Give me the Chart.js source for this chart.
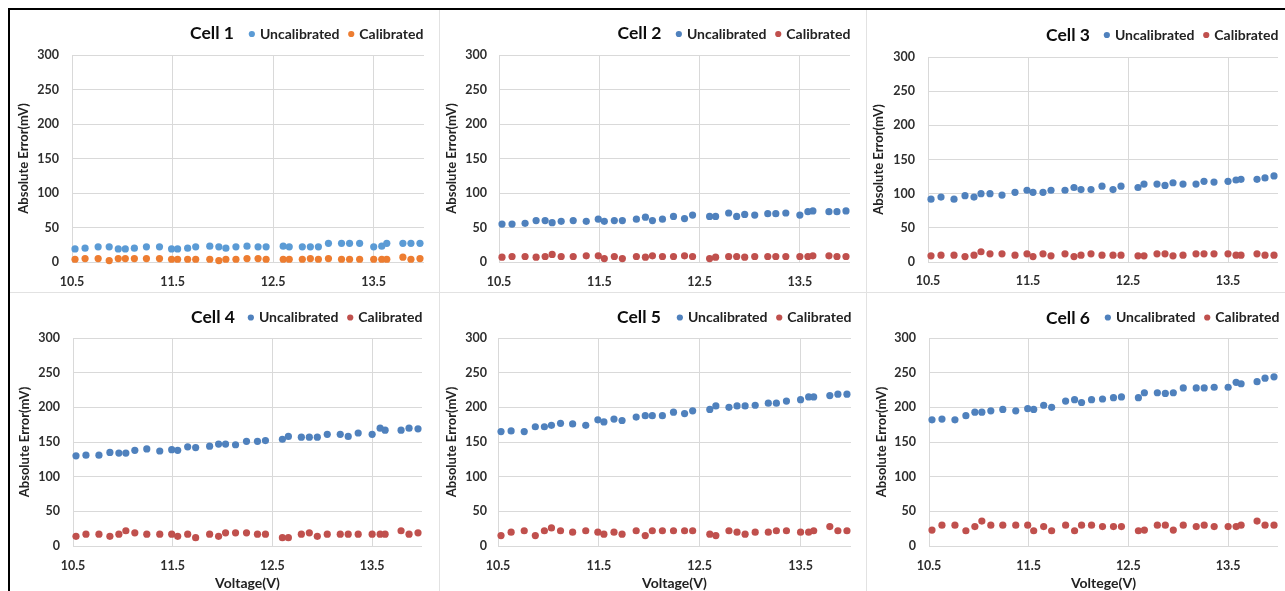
<!DOCTYPE html>
<html><head><meta charset="utf-8">
<script src="https://cdn.jsdelivr.net/npm/chart.js@4.4.1/dist/chart.umd.min.js"></script>
<style>
html,body{margin:0;padding:0;background:#fff;width:1285px;height:591px;overflow:hidden;position:relative}
canvas{position:absolute}
.line{position:absolute;background:#000}
.sep{position:absolute;background:#e2e2e2}
</style></head><body>
<div class="sep" style="left:439px;top:10px;width:1px;height:581px"></div>
<div class="sep" style="left:866px;top:10px;width:1px;height:581px"></div>
<div class="sep" style="left:10px;top:292px;width:1275px;height:1px"></div>
<div class="line" style="left:8px;top:8px;width:1277px;height:2px"></div>
<div class="line" style="left:8px;top:8px;width:2px;height:583px"></div>
<script>
// ---- data ----
const voltage = [10.53,10.63,10.76,10.87,10.96,11.03,11.12,11.24,11.37,11.49,11.55,11.65,11.73,11.87,11.96,12.03,12.13,12.24,12.35,12.43,12.60,12.66,12.79,12.87,12.95,13.05,13.18,13.26,13.36,13.50,13.58,13.63,13.79,13.87,13.96];
const cell1Uncal = [19,20,22,22,19,19,20,22,22,19,19,20,22,23,22,20,22,23,22,22,23,22,22,22,22,27,27,27,27,22,23,27,27,27,27];
const cell1Cal   = [4,5,5,2,5,5,5,5,5,4,4,4,4,4,2,4,4,5,5,4,4,4,4,5,4,5,4,4,4,4,4,4,7,4,5];
const cell2Uncal = [55,55,56,60,60,57,59,60,59,62,59,60,60,62,65,60,62,66,63,68,66,66,71,66,69,68,70,70,71,68,73,74,73,73,74];
const cell2Cal   = [7,8,8,7,8,11,8,8,9,9,5,8,5,8,7,9,8,8,9,8,5,7,8,8,7,8,8,8,8,8,8,9,9,8,8];
const cell3Uncal = [92,95,92,97,95,100,100,98,102,105,102,102,105,105,109,106,106,111,106,111,109,114,114,112,116,114,114,118,117,118,120,121,121,123,126];
const cell3Cal   = [9,10,10,8,10,15,12,12,10,12,8,12,9,12,8,10,12,10,10,10,9,9,12,12,9,10,12,12,12,12,10,10,12,10,10];
const cell4Uncal = [130,131,131,135,134,134,138,140,137,139,138,143,142,144,147,147,146,151,151,152,154,158,157,157,157,161,161,158,163,161,170,167,167,170,169];
const cell4Cal   = [14,17,17,14,17,22,19,17,17,17,14,17,12,17,14,19,19,19,17,17,12,12,17,19,14,17,17,17,17,17,17,17,22,17,19];
const cell5Uncal = [165,166,165,172,172,174,177,176,174,182,179,183,181,186,188,188,188,193,191,195,197,202,200,202,202,203,206,206,209,211,215,215,217,219,219];
const cell5Cal   = [15,20,22,15,22,26,22,20,22,20,17,20,17,22,15,22,22,22,22,22,17,15,22,20,17,20,20,22,22,20,20,22,28,22,22];
const cell6Uncal = [182,183,182,188,193,193,195,197,195,198,197,203,200,209,211,207,211,212,214,215,214,221,221,220,221,228,228,228,229,229,236,234,237,242,244];
const cell6Cal   = [23,30,30,22,28,36,30,30,30,30,22,28,22,30,22,30,30,28,28,28,22,23,30,30,23,30,28,30,28,28,28,30,36,30,30];
const xTicks = [10.5, 11.5, 12.5, 13.5];
const yTicks = [0, 50, 100, 150, 200, 250, 300];
const seriesNames = ['Uncalibrated', 'Calibrated'];
const cellTitles = ['Cell 1','Cell 2','Cell 3','Cell 4','Cell 5','Cell 6'];
const yAxisTitle = 'Absolute Error(mV)';
const xAxisTitles = [null, null, null, 'Voltage(V)', 'Voltage(V)', 'Voltege(V)'];

// ---- layout / styles ----
const FONT = 'Lato';
const panels = [
  {unc:cell1Uncal, cal:cell1Cal, cu:'#5B9BD5', cc:'#ED7D31',
   g:{top:0,bottom:293,plotL:72,plotR:424,plotT:55,plotB:262,titleCx:212,titleCy:33,legCy:34,legEnd:423,yTitleCx:24,tickR:59,xTickCy:282,xTitleCy:0}},
  {unc:cell2Uncal, cal:cell2Cal, cu:'#4F81BD', cc:'#C0504D',
   g:{top:0,bottom:293,plotL:499,plotR:850,plotT:55,plotB:262,titleCx:639.5,titleCy:33.5,legCy:34,legEnd:850,yTitleCx:452,tickR:487,xTickCy:282,xTitleCy:0}},
  {unc:cell3Uncal, cal:cell3Cal, cu:'#4F81BD', cc:'#C0504D',
   g:{top:0,bottom:293,plotL:928,plotR:1278,plotT:57,plotB:262,titleCx:1068,titleCy:35,legCy:35,legEnd:1278,yTitleCx:879,tickR:915,xTickCy:281,xTitleCy:0}},
  {unc:cell4Uncal, cal:cell4Cal, cu:'#4F81BD', cc:'#C0504D',
   g:{top:293,bottom:591,plotL:73,plotR:422,plotT:338,plotB:546,titleCx:213,titleCy:317,legCy:317.5,legEnd:422.5,yTitleCx:25,tickR:60,xTickCy:566,xTitleCy:583}},
  {unc:cell5Uncal, cal:cell5Cal, cu:'#4F81BD', cc:'#C0504D',
   g:{top:293,bottom:591,plotL:498,plotR:851,plotT:338,plotB:546,titleCx:639,titleCy:317,legCy:317.5,legEnd:851,yTitleCx:452,tickR:487,xTickCy:566,xTitleCy:583}},
  {unc:cell6Uncal, cal:cell6Cal, cu:'#4F81BD', cc:'#C0504D',
   g:{top:293,bottom:591,plotL:929,plotR:1278,plotT:338,plotB:546,titleCx:1068,titleCy:318,legCy:317.5,legEnd:1279,yTitleCx:881.5,tickR:916,xTickCy:566,xTitleCy:583}}
];

const LP = 10.6, LF = 14, BH = 4.4, BW = 2.2;
const TF = 17.5, TLH = TF * 1.2;
const TICKF = 12.5, AXF = 13, XTF = 14;
const gridColor = '#D9D9D9';
const tickColor = '#2e2e2e';

panels.forEach((p, idx) => {
  const g = p.g;
  const canvasR = Math.round(g.legEnd + LP);
  const canvasL = Math.round(2 * g.titleCx - canvasR);
  const W = canvasR - canvasL, H = g.bottom - g.top;
  const wL = g.plotL - canvasL, wR = canvasR - g.plotR;
  const legTop = g.legCy - g.top - LP - LF / 2;
  const legH = LF + LP + 10;
  const titleTop = legTop + legH;
  const titleH = (g.plotT - g.top) - titleTop;
  const tPadTop = (g.titleCy - g.top) - titleTop - TLH / 2;
  const tPadBot = titleH - TLH - tPadTop;
  const xH = g.bottom - g.plotB;
  const xTickPad = g.xTickCy - g.plotB - TICKF * 1.2 / 2;
  const yTickPad = g.plotL - g.tickR;
  const yTitlePad = g.yTitleCx - canvasL - AXF * 1.2 / 2;
  const xTitlePad = g.bottom - g.xTitleCy - XTF * 1.2 / 2;

  const cv = document.createElement('canvas');
  cv.width = W; cv.height = H;
  cv.style.left = canvasL + 'px'; cv.style.top = g.top + 'px';
  cv.style.width = W + 'px'; cv.style.height = H + 'px';
  document.body.appendChild(cv);

  const mk = (vals, color, name) => ({
    label: name,
    data: voltage.map((v, i) => ({x: v, y: vals[i]})),
    backgroundColor: color, borderColor: color, borderWidth: 0,
    pointRadius: 3.6, pointHoverRadius: 3.6, pointStyle: 'circle', clip: false
  });

  new Chart(cv, {
    type: 'scatter',
    data: {datasets: [mk(p.unc, p.cu, seriesNames[0]), mk(p.cal, p.cc, seriesNames[1])]},
    options: {
      responsive: false, animation: false, devicePixelRatio: 1,
      events: [],
      layout: {padding: {top: legTop, left: 0, right: 0, bottom: 0}},
      plugins: {
        tooltip: {enabled: false},
        legend: {
          position: 'top', align: 'end', weight: 1000,
          labels: {usePointStyle: true, pointStyle: 'circle', boxWidth: BW, boxHeight: BH, padding: LP,
                   font: {family: FONT, size: LF, weight: 'bold'}, color: '#222222'}
        },
        title: {
          display: true, text: cellTitles[idx], position: 'top', align: 'center', weight: 500,
          padding: {top: tPadTop, bottom: tPadBot},
          font: {family: FONT, size: TF, weight: 'bold', lineHeight: 1.2}, color: '#0d0d0d'
        }
      },
      scales: {
        x: {
          type: 'linear', min: 10.5, max: 14,
          afterBuildTicks: s => { s.ticks = xTicks.map(v => ({value: v})); },
          afterFit: s => { s.height = xH; },
          grid: {color: gridColor, lineWidth: 1, drawTicks: false},
          border: {display: false},
          ticks: {padding: xTickPad, autoSkip: false, maxRotation: 0, color: tickColor,
                  font: {family: FONT, size: TICKF, weight: 'bold', lineHeight: 1.2},
                  callback: v => String(v)},
          title: {display: !!xAxisTitles[idx], text: xAxisTitles[idx] || '', color: '#222222',
                  padding: {top: 0, bottom: xTitlePad},
                  font: {family: FONT, size: XTF, weight: 'bold', lineHeight: 1.2}}
        },
        y: {
          type: 'linear', min: 0, max: 300, position: 'left',
          afterBuildTicks: s => { s.ticks = yTicks.map(v => ({value: v})); },
          afterFit: s => { s.width = wL; },
          grid: {color: gridColor, lineWidth: 1, drawTicks: false},
          border: {display: false},
          ticks: {padding: yTickPad, color: tickColor,
                  font: {family: FONT, size: TICKF, weight: 'bold', lineHeight: 1.2}},
          title: {display: true, text: yAxisTitle, color: '#222222',
                  padding: {top: yTitlePad, bottom: 0},
                  font: {family: FONT, size: AXF, weight: 'bold', lineHeight: 1.2}}
        },
        yR: {
          type: 'linear', position: 'right', display: true,
          grid: {display: false, drawTicks: false}, border: {display: false},
          ticks: {display: false},
          afterFit: s => { s.width = wR; }
        }
      }
    }
  });
});
</script>
</body></html>
